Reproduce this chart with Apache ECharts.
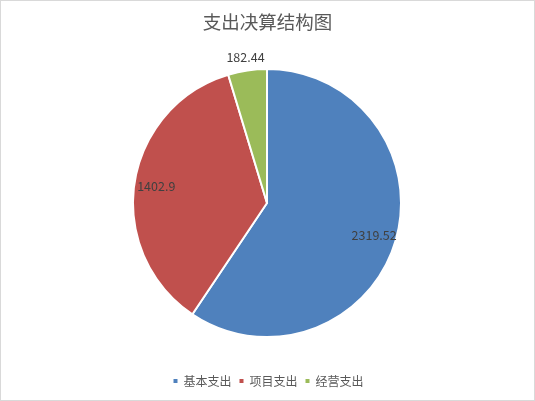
<!DOCTYPE html>
<html>
<head>
<meta charset="utf-8">
<script src="https://cdn.jsdelivr.net/npm/echarts@6/dist/echarts.min.js"></script>
<style>
    html, body { margin: 0; padding: 0; background: #fff; }
    #main { width: 535px; height: 401px; box-sizing: border-box; border: 1px solid #d9d9d9; }
</style>
</head>
<body>
<div id="main"></div>
<script>
const categories = ['基本支出', '项目支出', '经营支出'];
const values = [2319.52, 1402.9, 182.44];
const colors = ['#4f81bd', '#c0504d', '#9bbb59'];

const chart = echarts.init(document.getElementById('main'));
const font = '"Noto Sans CJK SC", "Microsoft YaHei", sans-serif';
const center = [266, 202];

function pieData(labelFor) {
    return categories.map((name, i) => ({
        name,
        value: values[i],
        label: { show: labelFor(i) }
    }));
}

// overlay rings that only carry the data labels
function labelRing(radius, labelFor) {
    return {
        type: 'pie',
        silent: true,
        center: center,
        radius: radius,
        startAngle: 90,
        itemStyle: { color: 'transparent', borderWidth: 0 },
        label: {
            position: 'inside',
            color: '#404040',
            fontSize: 12.5,
            fontFamily: font,
            formatter: p => String(p.value)
        },
        labelLine: { show: false },
        emphasis: { disabled: true },
        data: pieData(labelFor)
    };
}

chart.setOption({
    animation: false,
    color: colors,
    title: {
        text: '支出决算结构图',
        left: 'center',
        top: 7,
        textStyle: { fontFamily: font, fontSize: 18.5, fontWeight: 'normal', color: '#595959' }
    },
    legend: {
        data: categories,
        bottom: 8,
        left: 'center',
        icon: 'rect',
        itemWidth: 6,
        itemHeight: 6,
        itemGap: 6,
        textStyle: { fontFamily: font, fontSize: 12, color: '#595959' }
    },
    series: [
        {
            type: 'pie',
            center: center,
            radius: 134,
            startAngle: 90,
            itemStyle: { borderColor: '#fff', borderWidth: 2 },
            label: { show: false },
            labelLine: { show: false },
            emphasis: { disabled: true },
            data: pieData(() => false)
        },
        labelRing([106, 112], i => i < 2),
        labelRing([141, 147], i => i === 2)
    ]
});
</script>
</body>
</html>
